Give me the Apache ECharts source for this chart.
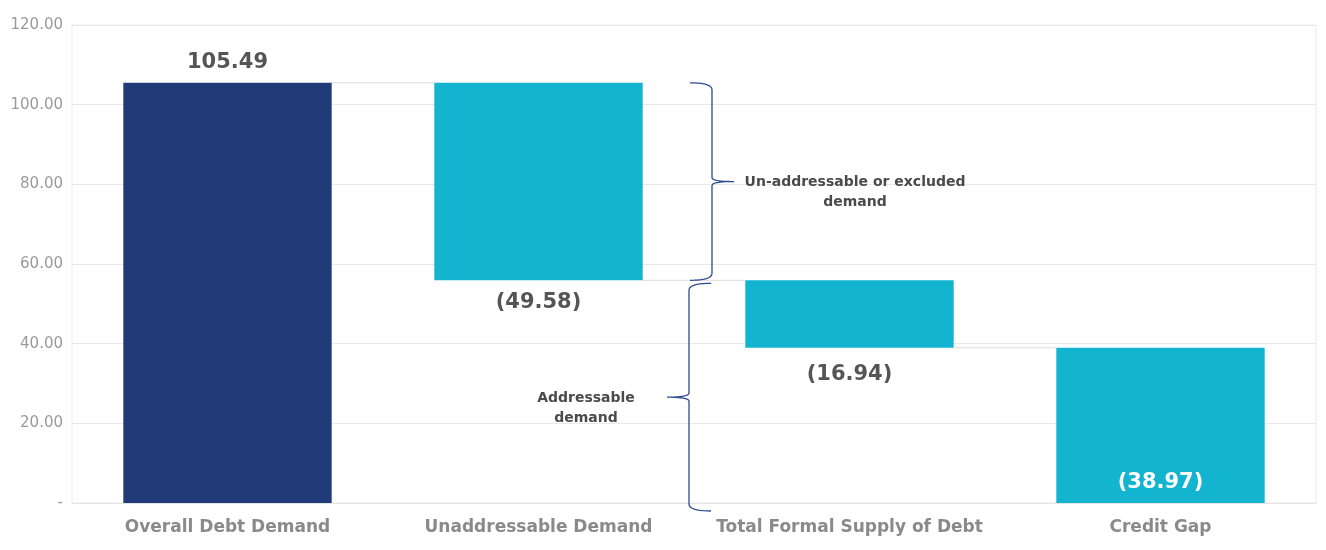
<!DOCTYPE html>
<html><head><meta charset="utf-8">
<script src="https://cdn.jsdelivr.net/npm/echarts@6/dist/echarts.min.js"></script>
<style>html,body{margin:0;padding:0;background:#fff}#c{width:1326px;height:550px}</style>
</head><body><div id="c"></div>
<script>
const categories = ['Overall Debt Demand', 'Unaddressable Demand', 'Total Formal Supply of Debt', 'Credit Gap'];
const values = [105.49, 49.58, 16.94, 38.97];
const labels = ['105.49', '(49.58)', '(16.94)', '(38.97)'];
const yTicks = { min: 0, max: 120, interval: 20 };
const braceTexts = ['Un-addressable or excluded\ndemand', 'Addressable\ndemand'];

// waterfall bases
const bases = [0, values[0] - values[1], values[0] - values[1] - values[2], 0];
const tops = bases.map((b, i) => b + values[i]);

const FONT = 'DejaVu Sans';
const NAVY = '#213a78', CYAN = '#12b4d0';
const labelPos = ['top', 'bottom', 'bottom', 'insideBottom'];
const labelDist = [10, 12, 16, 10];

const chart = echarts.init(document.getElementById('c'));
chart.setOption({
  animation: false,
  grid: { left: 72, right: 10, top: 25, bottom: 47, show: true, borderColor: '#ececec', borderWidth: 1 },
  xAxis: {
    type: 'category', data: categories,
    axisLine: { lineStyle: { color: '#e4e4e4' } },
    axisTick: { show: false },
    axisLabel: { interval: 0, color: '#8a8a8a', fontFamily: FONT, fontWeight: 'bold', fontSize: 17, margin: 16 }
  },
  yAxis: {
    type: 'value', min: yTicks.min, max: yTicks.max, interval: yTicks.interval,
    axisLine: { show: false }, axisTick: { show: false },
    splitLine: { lineStyle: { color: '#e8e8e8' } },
    axisLabel: { color: '#9a9a9a', fontFamily: FONT, fontSize: 15, margin: 9,
      formatter: v => v === 0 ? '-' : v.toFixed(2) }
  },
  series: [
    { type: 'bar', stack: 'w', data: bases, itemStyle: { color: 'transparent' }, silent: true, barWidth: '67%' },
    { type: 'bar', stack: 'w', barWidth: '67%',
      data: values.map((v, i) => ({
        value: v,
        itemStyle: { color: i === 0 ? NAVY : CYAN },
        label: {
          show: true,
          formatter: labels[i],
          position: labelPos[i],
          distance: labelDist[i],
          color: i === 3 ? '#ffffff' : '#555555',
          fontFamily: FONT, fontWeight: 'bold', fontSize: 21
        }
      }))
    }
  ]
});

function px(ci, v) { return chart.convertToPixel({ gridIndex: 0 }, [ci, v]); }
const bandW = px(1, 0)[0] - px(0, 0)[0];
const barHalf = bandW * 0.67 / 2;
const g = [];
// connector lines
for (let i = 0; i < 3; i++) {
  const lvl = i === 0 ? tops[0] : (i === 1 ? bases[1] : bases[2]);
  const a = px(i, lvl), b = px(i + 1, lvl);
  g.push({ type: 'line', shape: { x1: a[0] + barHalf, y1: a[1], x2: b[0] - barHalf, y2: b[1] },
    style: { stroke: '#dcdcdc', lineWidth: 1 }, z: 1 });
}
// braces as sampled polylines
function quad(p0, p1, p2, out) {
  for (let t = 0; t <= 1.0001; t += 0.1) {
    const u = 1 - t;
    out.push([u * u * p0[0] + 2 * u * t * p1[0] + t * t * p2[0], u * u * p0[1] + 2 * u * t * p1[1] + t * t * p2[1]]);
  }
}
function brace(xs, y1, y2, dir) {
  const ym = (y1 + y2) / 2;
  const xe = xs - dir * 22, xt = xs + dir * 22;
  const pts = [];
  quad([xe, y1], [xs, y1], [xs, y1 + 7], pts);
  pts.push([xs, ym - 4]);
  quad([xs, ym - 4], [xs, ym], [xt, ym], pts);
  quad([xt, ym], [xs, ym], [xs, ym + 4], pts);
  pts.push([xs, y2 - 7]);
  quad([xs, y2 - 7], [xs, y2], [xe, y2], pts);
  return pts;
}
const xb = (px(1, 0)[0] + px(2, 0)[0]) / 2;
const yTop = px(1, tops[0])[1], yMid = px(1, bases[1])[1], yZero = px(1, 0)[1];
g.push({ type: 'polyline', shape: { points: brace(xb + 18, yTop, yMid, 1) },
  style: { stroke: '#2e4a92', fill: null, lineWidth: 1.3 }, z: 10 });
g.push({ type: 'polyline', shape: { points: brace(xb - 5, yMid + 3, yZero + 8, -1) },
  style: { stroke: '#2e4a92', fill: null, lineWidth: 1.3 }, z: 10 });
g.push({ type: 'text', x: xb + 161, y: (yTop + yMid) / 2 + 11, style: { text: braceTexts[0], align: 'center', verticalAlign: 'middle',
  fill: '#4a4a4a', font: 'bold 14px "' + FONT + '"', lineHeight: 20 }, z: 10 });
g.push({ type: 'text', x: xb - 108, y: (yMid + yZero) / 2 + 17, style: { text: braceTexts[1], align: 'center', verticalAlign: 'middle',
  fill: '#4a4a4a', font: 'bold 14px "' + FONT + '"', lineHeight: 20 }, z: 10 });
chart.setOption({ graphic: g });
</script></body></html>
